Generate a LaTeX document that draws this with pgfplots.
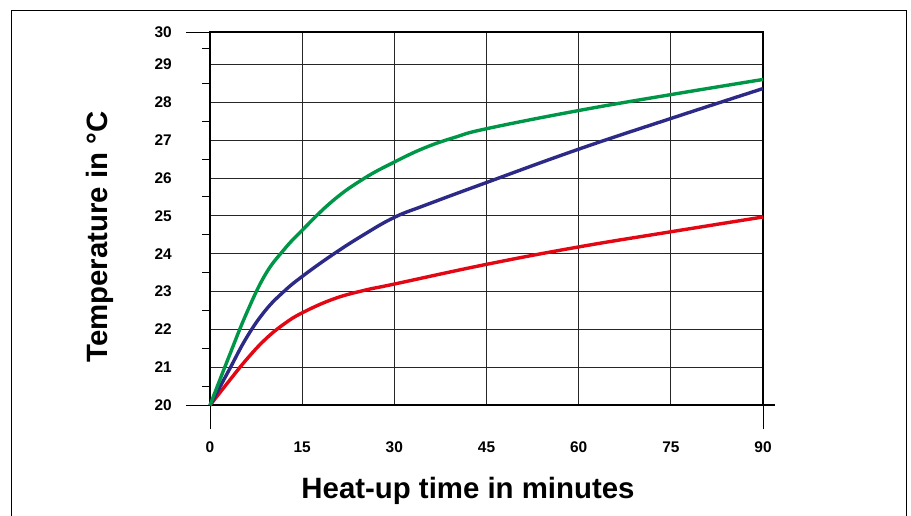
\documentclass[border=0pt]{standalone}
\usepackage{pgfplots}
\pgfplotsset{compat=1.18}
\usepackage{fontspec}
\setmainfont{Liberation Sans}

\definecolor{curvegreen}{RGB}{0,150,72}
\definecolor{curveblue}{RGB}{45,42,135}
\definecolor{curvered}{RGB}{227,6,19}

\begin{document}
\begin{tikzpicture}
\path[use as bounding box] (0,0) rectangle (911bp,516bp);
% outer frame (bottom edge lies below the page)
\draw[line width=1bp] (11bp,-2bp) -- (11bp,505bp) -- (906bp,505bp) -- (906bp,-2bp);

\begin{axis}[
	at={(210bp,110.7bp)}, anchor=south west,
	scale only axis,
	width=553bp, height=373bp,
	xmin=0, xmax=90,
	ymin=20, ymax=29.845,
	xtick={0,15,...,90},
	ytick={20,21,...,29,29.845},
	yticklabels={20,21,22,23,24,25,26,27,28,29,30},
	minor ytick={20.5,21.5,...,28.5,29.42},
	xtick pos=bottom, ytick pos=left,
	tick align=outside,
	major tick length=0pt,
	minor tick length=8bp,
	tick style={black, line width=1bp},
	extra x ticks={0,90},
	extra x tick labels={,},
	extra y ticks={20,29.845},
	extra y tick labels={,},
	extra tick style={major tick length=24bp, grid=none},
	grid=major,
	major grid style={black!85, line width=0.9bp},
	axis line style={black, line width=1.6bp},
	/pgf/number format/assume math mode=true,
	tick label style={font=\fontsize{15.5}{17}\bfseries\selectfont, inner sep=0pt},
	xticklabel style={anchor=north, yshift=-36bp},
	yticklabel style={anchor=east, xshift=-38bp},
	every axis plot/.append style={line width=3.4bp, smooth, tension=0.7},
	clip=false,
]
\addplot[curvered] coordinates {
	(0,20) (3,20.62) (6,21.22) (9,21.74) (12,22.14) (15,22.44) (20,22.8)
	(25,23.03) (30,23.2) (45,23.72) (60,24.18) (75,24.58) (90,24.97)};
\addplot[curveblue] coordinates {
	(0,20) (3,20.9) (6,21.8) (9,22.5) (12,23.0) (15,23.4) (20,23.98)
	(25,24.5) (30,24.96) (35,25.28) (45,25.88) (60,26.76) (75,27.57) (90,28.36)};
\addplot[curvegreen] coordinates {
	(0,20) (3,21.25) (6,22.45) (9,23.45) (12,24.1) (15,24.62) (20,25.4)
	(25,25.98) (30,26.42) (35,26.8) (40,27.08) (45,27.3) (60,27.78)
	(75,28.2) (90,28.6)};
\draw[black, line width=1.6bp] (axis cs:90,20) -- ([xshift=12bp]axis cs:90,20);
\end{axis}

\node[rotate=90, anchor=base, font=\fontsize{29.5}{32}\bfseries\selectfont]
	at (107bp,279bp) {Temperature in °C};
\node[anchor=base, font=\fontsize{29.5}{32}\bfseries\selectfont]
	at (468bp,18bp) {Heat-up time in minutes};
\end{tikzpicture}
\end{document}
